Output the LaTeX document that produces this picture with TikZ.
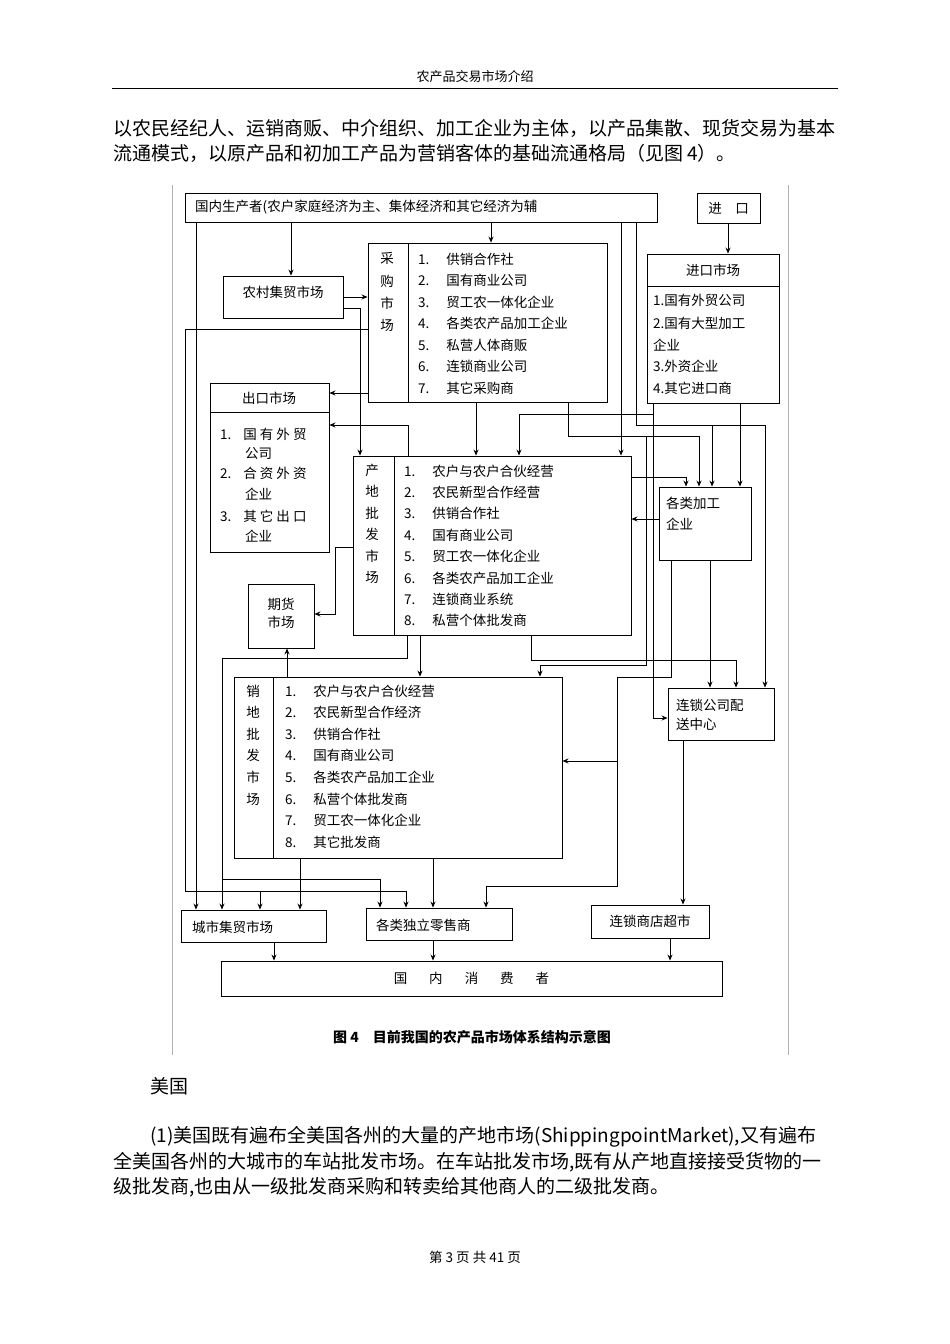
\documentclass[tikz,border=0pt]{standalone}
\usepackage{fontspec}
\setmainfont{Noto Sans CJK SC}
\usetikzlibrary{arrows.meta}
\tikzset{
 bx/.style={draw,line width=0.9pt,inner sep=0pt},
 arr/.style={line width=0.8pt,-{Stealth[length=6pt,width=5pt]}},
 ln/.style={line width=0.8pt},
 tx/.style={inner sep=0pt,font=\fontsize{13.5}{13.5}\selectfont},
 pt/.style={inner sep=0pt,anchor=west,font=\fontsize{19}{19}\selectfont}
}
\newcommand{\bxx}[5]{\node[bx,minimum width={(#4-#2)*1pt},minimum height={(#5-#3)*1pt}] (#1) at ({(#2+#4)/2},{(#3+#5)/2}) {};}
\begin{document}
\begin{tikzpicture}[x=1pt,y=-1pt]
\useasboundingbox (0,0) rectangle (950,1344);
% page
\node[tx,font=\fontsize{13}{13}\selectfont] (hdr) at (475,77) {农产品交易市场介绍};
\draw[line width=0.6pt] (112,88) -- (838,88);
\node[pt] (p1) at (113,128) {以农民经纪人、运销商贩、中介组织、加工企业为主体，以产品集散、现货交易为基本};
\node[pt] (p2) at (113,153) {流通模式，以原产品和初加工产品为营销客体的基础流通格局（见图 4）。};
\draw[gray!60,line width=0.5pt] (172,185) -- (172,1055) (788,185) -- (788,1055);
% boxes
\bxx{top}{185}{193}{657}{222}
\bxx{imp}{697}{193}{760}{223}
\bxx{impm}{647}{254}{779}{403}
\bxx{cg}{368}{243}{607}{402}
\bxx{nc}{223}{276}{343}{318}
\bxx{ck}{210}{383}{329}{552}
\bxx{cd}{353}{456}{631}{635}
\bxx{jg}{659}{487}{751}{560}
\bxx{qh}{248}{584}{314}{648}
\bxx{xd}{234}{677}{562}{858}
\bxx{ls}{668}{688}{774}{740}
\bxx{cs}{181}{910}{326}{942}
\bxx{dl}{366}{908}{512}{940}
\bxx{cc}{591}{905}{709}{938}
\bxx{xf}{221}{961}{722}{996}
\draw[ln] (647,286) -- (779,286) (210,412) -- (329,412) (408,243) -- (408,402) (394,456) -- (394,635) (273,677) -- (273,858);
% texts
\node[tx,anchor=west] (ttop) at (195,207) {国内生产者(农户家庭经济为主、集体经济和其它经济为辅};
\node[tx] (timp) at (imp) {进\quad 口};
\node[tx] (timh) at (713,270) {进口市场};
\foreach \t/\y [count=\i] in {1.国有外贸公司/300,2.国有大型加工/323,企业/345,3.外资企业/366,4.其它进口商/388}
  \node[tx,anchor=west] (tim\i) at (653,\y) {\t};
\foreach \c/\y [count=\i] in {采/258,购/281,市/303,场/325}
  \node[tx] (tcgv\i) at (387,\y) {\c};
\foreach \t [count=\i] in {供销合作社,国有商业公司,贸工农一体化企业,各类农产品加工企业,私营人体商贩,连锁商业公司,其它采购商}
  \node[tx,anchor=west] (tcg\i) at (418,{259+21.5*(\i-1)}) {\i.\hspace{17pt}\t};
\node[tx] (tnc) at (283,292) {农村集贸市场};
\node[tx] (tckh) at (269,398) {出口市场};
\foreach \t/\y [count=\i] in {1.\hspace{12pt}国 有 外 贸/434,\hspace{25pt}公司/453,2.\hspace{12pt}合 资 外 资/473,\hspace{25pt}企业/494,3.\hspace{12pt}其 它 出 口/516,\hspace{25pt}企业/536}
  \node[tx,anchor=west] (tck\i) at (220,\y) {\t};
\foreach \c [count=\i] in {产,地,批,发,市,场}
  \node[tx] (tcdv\i) at (372,{470+21.5*(\i-1)}) {\c};
\foreach \t [count=\i] in {农户与农户合伙经营,农民新型合作经营,供销合作社,国有商业公司,贸工农一体化企业,各类农产品加工企业,连锁商业系统,私营个体批发商}
  \node[tx,anchor=west] (tcd\i) at (404,{471+21.4*(\i-1)}) {\i.\hspace{17pt}\t};
\node[tx,anchor=west] (tjg1) at (666,503) {各类加工};
\node[tx,anchor=west] (tjg2) at (666,524) {企业};
\node[tx] (tqh1) at (281,604) {期货};
\node[tx] (tqh2) at (281,622) {市场};
\foreach \c [count=\i] in {销,地,批,发,市,场}
  \node[tx] (txdv\i) at (253,{691+21.6*(\i-1)}) {\c};
\foreach \t [count=\i] in {农户与农户合伙经营,农民新型合作经济,供销合作社,国有商业公司,各类农产品加工企业,私营个体批发商,贸工农一体化企业,其它批发商}
  \node[tx,anchor=west] (txd\i) at (285,{691+21.6*(\i-1)}) {\i.\hspace{17pt}\t};
\node[tx,anchor=west] (tls1) at (676,705) {连锁公司配};
\node[tx,anchor=west] (tls2) at (676,724) {送中心};
\node[tx,anchor=west] (tcs) at (192,927) {城市集贸市场};
\node[tx,anchor=west] (tdl) at (376,925) {各类独立零售商};
\node[tx] (tcc) at (cc) {连锁商店超市};
\node[tx] (txf) at (xf) {国\hspace{22pt}内\hspace{22pt}消\hspace{22pt}费\hspace{22pt}者};
\node[tx,font=\fontsize{14}{14}\selectfont\bfseries] (cap) at (472,1037) {图 4\quad 目前我国的农产品市场体系结构示意图};
% connectors
\draw[arr] (291,0|-top.south) -- (291,0|-nc.north);
\draw[arr] (491,0|-top.south) -- (491,0|-cg.north);
\draw[arr] (728,0|-imp.south) -- (728,0|-impm.north);
\draw[arr] (196,0|-top.south) -- (196,0|-cs.north);
\draw[arr] (nc.east|-0,297) -- (cg.west|-0,297);
\draw[arr] (nc.east|-0,308) -| (360,0|-cd.north);
\draw[arr] (cg.west|-0,329) -| (185,891) -| (406,0|-dl.north);
\draw[arr] (260,891) -- (260,0|-cs.north);
\draw[arr] (cg.west|-0,393) -- (ck.east|-0,393);
\draw[arr] (408,0|-cd.north) |- (ck.east|-0,425);
\draw[arr] (476,0|-cg.south) -- (476,0|-cd.north);
\draw[arr] (568,0|-cg.south) |- (699,436) -- (699,0|-jg.north);
\draw[arr] (646,436) |- (540,665) -- (540,0|-xd.north);
\draw[arr] (653,0|-impm.south) |- (519,414) -- (519,0|-cd.north);
\draw[arr] (653,0|-impm.south) |- (ls.west|-0,718);
\draw[arr] (740,0|-impm.south) -- (740,0|-jg.north);
\draw[arr] (621,0|-top.south) -- (621,0|-cd.north);
\draw[arr] (636,0|-top.south) |- (765,425) -- (765,0|-ls.north);
\draw[arr] (712,425) -- (712,0|-jg.north);
\draw[arr] (cd.east|-0,477) -| (686,0|-jg.north);
\draw[arr] (jg.west|-0,519) -- (cd.east|-0,519);
\draw[arr] (cd.west|-0,547) -| (335,614) -- (qh.east|-0,614);
\draw[arr] (407,0|-cd.south) |- (222,658) -- (222,0|-cs.north);
\draw[arr] (222,879) -| (380,0|-dl.north);
\draw[arr] (420,0|-cd.south) -- (420,0|-xd.north);
\draw[arr] (531,0|-cd.south) |- (736,660) -- (736,0|-ls.north);
\draw[arr] (710,0|-jg.south) -- (710,0|-ls.north);
\draw[arr] (287,0|-xd.north) -- (287,0|-qh.south);
\draw[arr] (671,0|-jg.south) |- (617,677) |- (486,886) -- (486,0|-dl.north);
\draw[arr] (617,761) -- (xd.east|-0,761);
\draw[arr] (683,0|-ls.south) -- (683,0|-cc.north);
\draw[arr] (300,0|-xd.south) -- (300,0|-cs.north);
\draw[arr] (433,0|-xd.south) -- (433,0|-dl.north);
\draw[arr] (274,0|-cs.south) -- (274,0|-xf.north);
\draw[arr] (433,0|-dl.south) -- (433,0|-xf.north);
\draw[arr] (670,0|-cc.south) -- (670,0|-xf.north);
% after
\node[pt] (us) at (150,1086) {美国};
\node[pt] (q1) at (150,1137) {(1)美国既有遍布全美国各州的大量的产地市场(ShippingpointMarket),又有遍布};
\node[pt] (q2) at (113,1162) {全美国各州的大城市的车站批发市场。在车站批发市场,既有从产地直接接受货物的一};
\node[pt] (q3) at (113,1187) {级批发商,也由从一级批发商采购和转卖给其他商人的二级批发商。};
\node[tx] (ftr) at (475,1257) {第 3 页 共 41 页};
\end{tikzpicture}
\end{document}
